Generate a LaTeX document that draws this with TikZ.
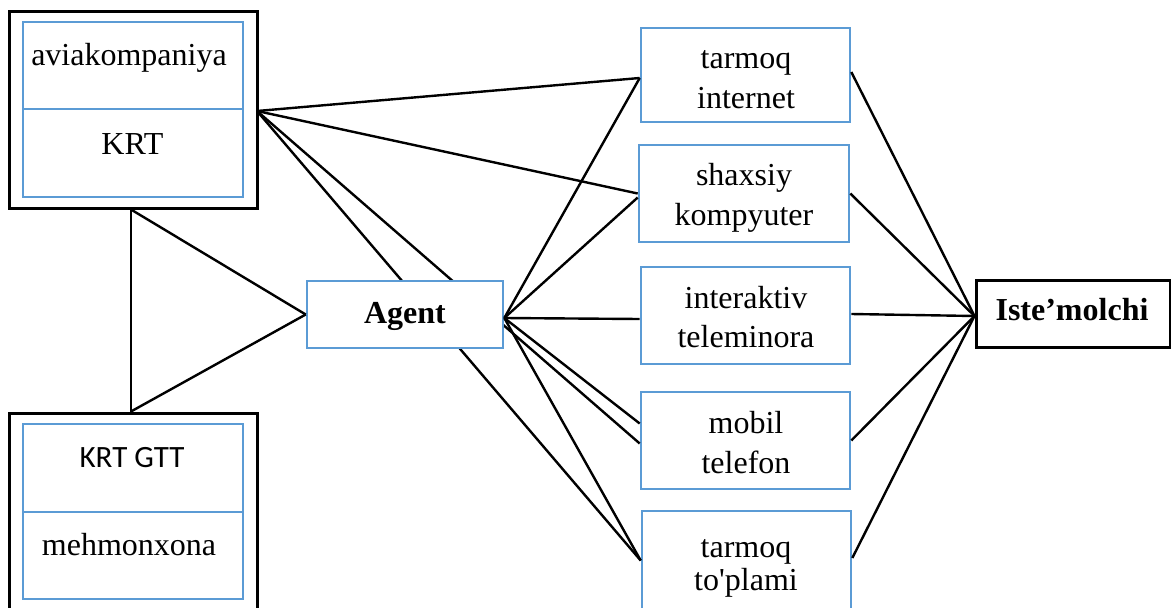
\documentclass[tikz,border=0pt]{standalone}
\usepackage{fontspec}
\setmainfont{Liberation Serif}
\newfontfamily\plainserif{Liberation Serif}
\newfontfamily\calibrifont{Carlito}
\usetikzlibrary{calc}
\definecolor{boxblue}{RGB}{91,155,213}

\begin{document}
\begin{tikzpicture}[x=1pt,y=-1pt,
  link/.style={draw=black, line width=2.4pt},
  cell/.style={rectangle, draw=boxblue, line width=2.6pt, fill=white, inner sep=0pt},
  frame/.style={rectangle, draw=black, line width=3pt, fill=white, inner sep=0pt},
  txt/.style={anchor=base, inner sep=0pt, font=\fontsize{32}{36}\selectfont},
  boldtxt/.style={txt, font=\fontsize{32}{36}\selectfont\bfseries}]
\useasboundingbox (0,0) rectangle (1171,608);

% left groups: outer black frames with two blue cells each
\node[frame, minimum width=248pt, minimum height=197pt] (topframe) at (133,109.5) {};
\node[cell, minimum width=220pt, minimum height=87pt] (aviacell) at (133,65.5) {};
\node[cell, minimum width=220pt, minimum height=88pt] (krtcell) at (133,153) {};
\node[frame, minimum width=248pt, minimum height=207pt] (botframe) at (133,516.5) {};
\node[cell, minimum width=220pt, minimum height=88pt] (gttcell) at (133,468) {};
\node[cell, minimum width=220pt, minimum height=87pt] (hotelcell) at (133,555.5) {};

\node[txt] (aviatxt) at (129,65) {aviakompaniya};
\node[txt] (krttxt) at (132.5,154) {KRT};
\node[txt, font=\fontsize{31}{36}\calibrifont] (gtttxt) at (132,467) {KRT GTT};
\node[txt] (hoteltxt) at (129,555) {mehmonxona};

% attachment point on the top frame
\coordinate (krt) at (257,111);

% middle column of channels
\node[cell, minimum width=209pt, minimum height=94pt] (net) at (745.5,75) {};
\node[cell, minimum width=210pt, minimum height=97pt] (pc) at (744,193.5) {};
\node[cell, minimum width=209pt, minimum height=97pt] (kiosk) at (745.5,315.5) {};
\node[cell, minimum width=209pt, minimum height=97pt] (mob) at (745.5,440.5) {};
\node[cell, minimum width=209pt, minimum height=99pt] (pool) at (746.5,560.5) {};

% lines from the top frame (run behind the Agent box)
\draw[link] (krt) -- ($(net.west)+(0,3)$);
\draw[link] (krt) -- (pc.west);
\draw[link] (krt) -- ($(mob.west)+(0,3)$);
\draw[link] (krt) -- (pool.west);

% triangle between the two frames and the agent
\node[cell, minimum width=196pt, minimum height=67pt] (agent) at (405,314.5) {};
\node[boldtxt] (agenttxt) at (405,323) {Agent};
\draw[link] (topframe.south -| 131,0) -- (botframe.north -| 131,0);
\draw[link] (topframe.south -| 131,0) -- (agent.west);
\draw[link] (botframe.north -| 131,0) -- (agent.west);

% lines from the agent to every channel
\coordinate (ag) at ($(agent.east)+(0,3.5)$);
\draw[link] (ag) -- ($(net.west)+(0,3)$);
\draw[link] (ag) -- ($(pc.west)+(0,4)$);
\draw[link] (ag) -- ($(kiosk.west)+(0,3.5)$);
\draw[link] (ag) -- ($(mob.west)+(0,-17)$);
\draw[link] (ag) -- (pool.west);

% channel labels
\node[txt] (nt1) at (746,68) {tarmoq};
\node[txt] (nt2) at (746,108) {internet};
\node[txt] (pt1) at (744,185) {shaxsiy};
\node[txt] (pt2) at (744,225) {kompyuter};
\node[txt] (kt1) at (746,308) {interaktiv};
\node[txt] (kt2) at (746,347) {teleminora};
\node[txt] (mt1) at (746,433) {mobil};
\node[txt] (mt2) at (746,473) {telefon};
\node[txt] (lt1) at (746,557) {tarmoq};
\node[txt, font=\fontsize{32}{36}\plainserif] (lt2) at (746,590) {to'plami};

% consumer
\node[frame, minimum width=194pt, minimum height=67pt] (user) at (1073,313.5) {};
\node[boldtxt] (usertxt) at (1072,320) {Iste’molchi};
\coordinate (us) at ($(user.west)+(0,2.5)$);
\draw[link] ($(net.east)+(0,-3)$) -- (us);
\draw[link] (pc.east) -- (us);
\draw[link] ($(kiosk.east)+(0,-1.5)$) -- (us);
\draw[link] (mob.east) -- (us);
\draw[link] ($(pool.east)+(0,-2.5)$) -- (us);
\end{tikzpicture}
\end{document}
